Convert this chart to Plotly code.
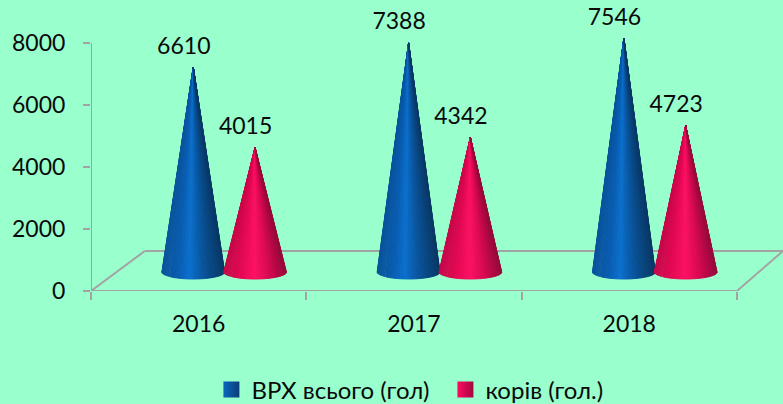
import numpy as np
import plotly.graph_objects as go

categories = ["2016", "2017", "2018"]
series_names = ["ВРХ всього (гол)", "корів (гол.)"]
brx_values = [6610, 7388, 7546]
cow_values = [4015, 4342, 4723]
y_ticks = [0, 2000, 4000, 6000, 8000]

BG = "#99FFCC"
AXIS = "#A3A3A3"
FONT = "Lato, Carlito, 'Open Sans', sans-serif"
BLACK = "#0a0a0a"

PX_PER_UNIT = 0.031
Y_TOP = 291 / PX_PER_UNIT
X_MAX = 2.714

BASE_Y = 613
ELL_H = 226
RADIUS = 0.146
LABEL_DX = -0.044
LABEL_LIFT = 250
OFFSETS = [-0.025, 0.262]
DEPTH_Y = 1290

STOPS = {
    0: [(0.0, (10, 84, 156)), (0.25, (10, 92, 175)), (0.45, (12, 112, 205)),
        (0.65, (10, 86, 160)), (0.85, (9, 68, 124)), (1.0, (10, 56, 102))],
    1: [(0.0, (198, 8, 74)), (0.25, (225, 8, 82)), (0.5, (252, 18, 100)),
        (0.7, (222, 10, 84)), (0.88, (180, 8, 68)), (1.0, (150, 10, 60))],
}
LEGEND_COL = [("#0A66BE", "#0A3F78"), ("#FF0A60", "#A00840")]


def shade(stops, u):
    for (a, ca), (b, cb) in zip(stops, stops[1:]):
        if u <= b:
            t = (u - a) / (b - a)
            c = [round(p + (q - p) * t) for p, q in zip(ca, cb)]
            return f"rgb({c[0]},{c[1]},{c[2]})"
    c = stops[-1][1]
    return f"rgb({c[0]},{c[1]},{c[2]})"


fig = go.Figure()
N = 48
for s, values in enumerate([brx_values, cow_values]):
    for i, v in enumerate(values):
        cx = i + OFFSETS[s]
        tip = BASE_Y + v
        th = np.linspace(np.pi, 2 * np.pi, N + 1)
        for k in range(N):
            th_seg = np.linspace(th[k], th[k + 1], 3)
            xs = cx + RADIUS * np.cos(th_seg)
            ys = BASE_Y + ELL_H * np.sin(th_seg)
            u = (np.cos(th[k]) + np.cos(th[k + 1])) / 4 + 0.5
            col = shade(STOPS[s], float(u))
            fig.add_trace(go.Scatter(
                x=[cx, *xs, cx], y=[tip, *ys, tip], mode="lines", fill="toself",
                fillcolor=col, line=dict(color=col, width=1),
                hoverinfo="skip", showlegend=False))

# data labels
for s, values in enumerate([brx_values, cow_values]):
    fig.add_trace(go.Scatter(
        x=[i + OFFSETS[s] + LABEL_DX for i in range(len(values))],
        y=[v + BASE_Y + LABEL_LIFT for v in values],
        mode="text", text=[str(v) for v in values], textposition="top center",
        textfont=dict(family=FONT, size=23, color=BLACK), showlegend=False,
        cliponaxis=False))

# legend entries
for s, name in enumerate(series_names):
    fig.add_trace(go.Scatter(
        x=[None], y=[None], mode="markers", name=name,
        marker=dict(symbol="square", size=16, color=LEGEND_COL[s][0],
                    gradient=dict(type="horizontal", color=LEGEND_COL[s][1]))))

line = dict(color=AXIS, width=2)
shapes = [
    dict(type="line", x0=-0.5, x1=-0.5, y0=0, y1=8000, line=line, layer="below"),
    dict(type="line", x0=-0.5, x1=2.5, y0=0, y1=0, line=line, layer="below"),
    dict(type="line", x0=-0.5, x1=-0.25, y0=0, y1=DEPTH_Y, line=line, layer="below"),
    dict(type="line", x0=2.5, x1=X_MAX, y0=0, y1=DEPTH_Y, line=line, layer="below"),
    dict(type="line", x0=-0.25, x1=X_MAX, y0=DEPTH_Y, y1=DEPTH_Y, line=line, layer="below"),
]

fig.update_layout(
    width=783, height=404, autosize=False,
    paper_bgcolor=BG, plot_bgcolor=BG,
    margin=dict(l=91, r=0, t=0, b=113),
    font=dict(family=FONT, size=23, color=BLACK),
    shapes=shapes,
    showlegend=True,
    legend=dict(orientation="h", x=0.174, xanchor="left", xref="paper",
                y=0.035, yanchor="middle", yref="container", bgcolor="rgba(0,0,0,0)",
                font=dict(family=FONT, size=24, color=BLACK),
                itemwidth=30, traceorder="normal",
                entrywidthmode="pixels", entrywidth=189),
    xaxis=dict(
        range=[-0.5, X_MAX], showgrid=False, zeroline=False, showline=False,
        tickmode="array", tickvals=list(range(len(categories))), ticktext=categories,
        ticks="", ticklabelstandoff=17, tickfont=dict(family=FONT, size=23, color=BLACK),
        minor=dict(tickmode="array", tickvals=[-0.5, 0.5, 1.5, 2.5], ticks="outside",
                   ticklen=8, tickwidth=2, tickcolor=AXIS, showgrid=False),
    ),
    yaxis=dict(
        range=[0, Y_TOP], showgrid=False, zeroline=False, showline=False,
        tickmode="array", tickvals=y_ticks, ticks="outside", ticklen=7, tickwidth=2,
        tickcolor=AXIS, ticklabelstandoff=13,
        tickfont=dict(family=FONT, size=23, color=BLACK),
    ),
)
fig.write_html("out.html", config={"displayModeBar": False},
               post_script="document.body.style.margin='0';document.documentElement.style.overflow='hidden';document.body.style.background='#99FFCC';")
